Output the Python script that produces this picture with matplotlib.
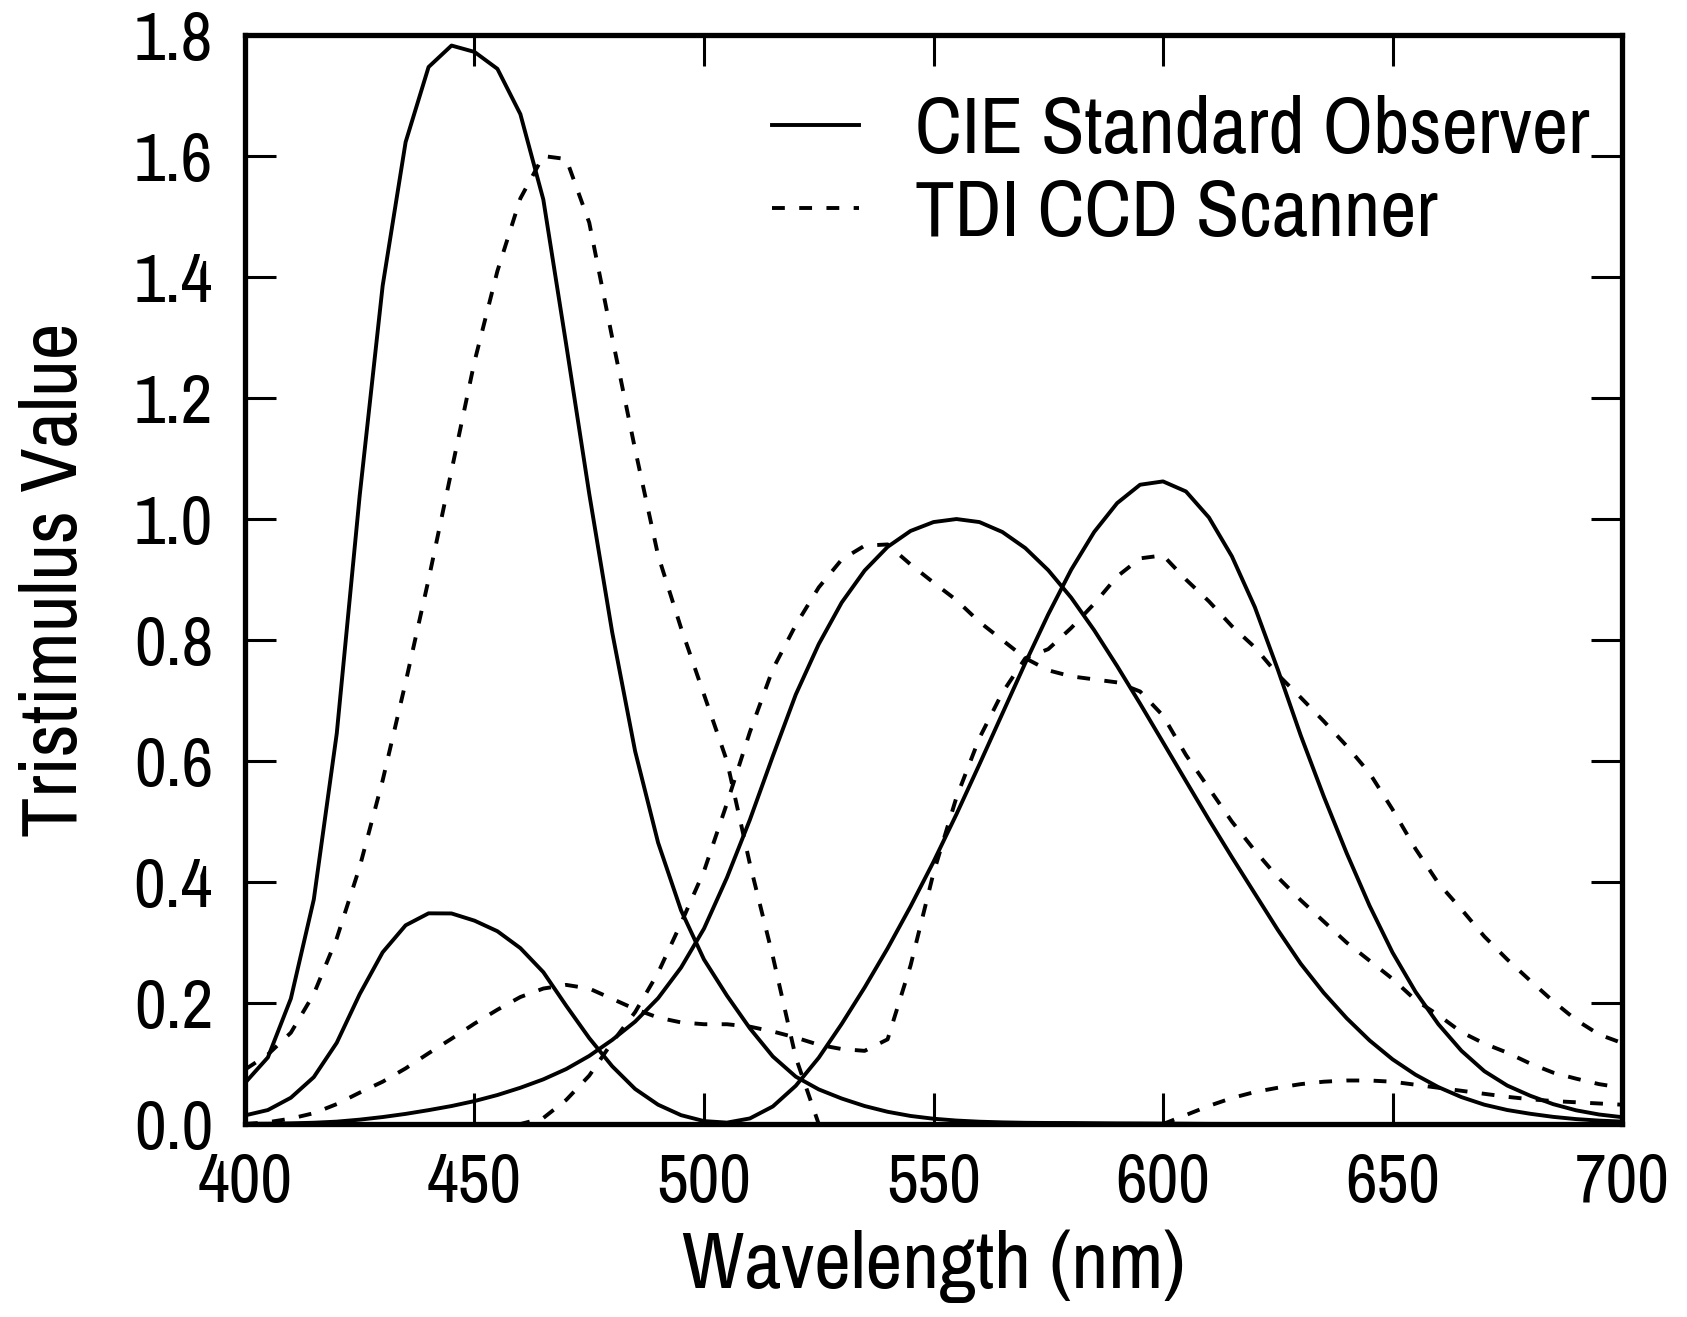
import matplotlib
matplotlib.use("Agg")
import matplotlib.pyplot as plt
import numpy as np

plt.rcParams['font.family'] = ['Archivo Narrow', 'Roboto Condensed', 'DejaVu Sans']

# wavelength grid, 5 nm steps
wl = np.arange(400, 701, 5)

# CIE 1931 standard observer (x-bar, y-bar, z-bar)
cie_x = [0.0143, 0.0232, 0.0435, 0.0776, 0.1344, 0.2148, 0.2839, 0.3285, 0.3483, 0.3481,
         0.3362, 0.3187, 0.2908, 0.2511, 0.1954, 0.1421, 0.0956, 0.0580, 0.0320, 0.0147,
         0.0049, 0.0024, 0.0093, 0.0291, 0.0633, 0.1096, 0.1655, 0.2258, 0.2904, 0.3597,
         0.4335, 0.5121, 0.5945, 0.6784, 0.7621, 0.8425, 0.9163, 0.9786, 1.0263, 1.0567,
         1.0622, 1.0456, 1.0026, 0.9384, 0.8545, 0.7514, 0.6424, 0.5419, 0.4479, 0.3608,
         0.2835, 0.2187, 0.1649, 0.1212, 0.0874, 0.0636, 0.0468, 0.0329, 0.0227, 0.0158,
         0.0114]
cie_y = [0.0004, 0.0006, 0.0012, 0.0022, 0.0040, 0.0073, 0.0116, 0.0168, 0.0230, 0.0298,
         0.0380, 0.0480, 0.0600, 0.0739, 0.0910, 0.1126, 0.1390, 0.1693, 0.2080, 0.2586,
         0.3230, 0.4073, 0.5030, 0.6082, 0.7100, 0.7932, 0.8620, 0.9149, 0.9540, 0.9803,
         0.9950, 1.0000, 0.9950, 0.9786, 0.9520, 0.9154, 0.8700, 0.8163, 0.7570, 0.6949,
         0.6310, 0.5668, 0.5030, 0.4412, 0.3810, 0.3210, 0.2650, 0.2170, 0.1750, 0.1382,
         0.1070, 0.0816, 0.0610, 0.0446, 0.0320, 0.0232, 0.0170, 0.0119, 0.0082, 0.0057,
         0.0041]
cie_z = [0.0679, 0.1102, 0.2074, 0.3713, 0.6456, 1.0391, 1.3856, 1.6230, 1.7471, 1.7826,
         1.7721, 1.7441, 1.6692, 1.5281, 1.2876, 1.0419, 0.8130, 0.6162, 0.4652, 0.3533,
         0.2720, 0.2123, 0.1582, 0.1117, 0.0783, 0.0573, 0.0422, 0.0298, 0.0203, 0.0134,
         0.0088, 0.0058, 0.0039, 0.0028, 0.0021, 0.0018, 0.0017, 0.0014, 0.0011, 0.0010,
         0.0008, 0.0006, 0.0003, 0.0002, 0.0002, 0.0001, 0.0001, 0.0, 0.0, 0.0,
         0.0, 0.0, 0.0, 0.0, 0.0, 0.0, 0.0, 0.0, 0.0, 0.0,
         0.0]

# TDI CCD scanner channels
ccd_r = [0.0, 0.003, 0.009, 0.018, 0.033, 0.052, 0.070, 0.092, 0.117, 0.141,
         0.166, 0.189, 0.210, 0.224, 0.230, 0.224, 0.207, 0.190, 0.176, 0.168,
         0.165, 0.165, 0.161, 0.153, 0.143, 0.131, 0.124, 0.121, 0.140, 0.262,
         0.415, 0.540, 0.638, 0.713, 0.770, 0.785, 0.820, 0.860, 0.905, 0.935,
         0.940, 0.900, 0.864, 0.823, 0.788, 0.743, 0.705, 0.666, 0.625, 0.580,
         0.520, 0.455, 0.398, 0.355, 0.310, 0.272, 0.237, 0.203, 0.172, 0.148,
         0.134]
ccd_g = [0.0, 0.0, 0.0, 0.0, 0.0, 0.0, 0.0, 0.0, 0.0, 0.0,
         0.0, 0.0, 0.0, 0.010, 0.040, 0.080, 0.135, 0.185, 0.250, 0.332,
         0.418, 0.530, 0.648, 0.752, 0.825, 0.887, 0.933, 0.956, 0.958, 0.925,
         0.895, 0.866, 0.830, 0.800, 0.770, 0.750, 0.740, 0.735, 0.730, 0.715,
         0.675, 0.610, 0.555, 0.500, 0.452, 0.408, 0.370, 0.335, 0.300, 0.270,
         0.240, 0.205, 0.180, 0.152, 0.133, 0.118, 0.100, 0.085, 0.075, 0.066,
         0.060]
ccd_b = [0.090, 0.115, 0.151, 0.215, 0.307, 0.425, 0.568, 0.730, 0.900, 1.080,
         1.260, 1.410, 1.530, 1.600, 1.595, 1.490, 1.300, 1.115, 0.940, 0.820,
         0.710, 0.600, 0.430, 0.277, 0.110, 0.0, 0.0, 0.0, 0.0, 0.0,
         0.0, 0.0, 0.0, 0.0, 0.0, 0.0, 0.0, 0.0, 0.0, 0.0,
         0.0, 0.015, 0.030, 0.043, 0.053, 0.060, 0.066, 0.070, 0.072, 0.072,
         0.070, 0.065, 0.060, 0.055, 0.050, 0.045, 0.041, 0.038, 0.036, 0.034,
         0.032]

x_ticks = [400, 450, 500, 550, 600, 650, 700]
y_ticks = [0.0, 0.2, 0.4, 0.6, 0.8, 1.0, 1.2, 1.4, 1.6, 1.8]

fig = plt.figure(figsize=(16.87, 13.17), dpi=100)
ax = fig.add_axes([0.1452, 0.1465, 0.8163, 0.8269])

lw = 2.8
dash = (3.3, 3.7)
ax.plot(wl, cie_z, color='k', lw=lw, label='CIE Standard Observer')
ax.plot(wl, cie_y, color='k', lw=lw)
ax.plot(wl, cie_x, color='k', lw=lw)
ax.plot(wl, ccd_b, color='k', lw=lw, ls=(0, dash), label='TDI CCD Scanner')
ax.plot(wl, ccd_g, color='k', lw=lw, ls=(0, dash))
ax.plot(wl, ccd_r, color='k', lw=lw, ls=(0, dash))

ax.set_xlim(400, 700)
ax.set_ylim(0, 1.8)
ax.set_xticks(x_ticks)
ax.set_yticks(y_ticks)
ax.set_yticklabels(['%.1f' % v for v in y_ticks])

for s in ax.spines.values():
    s.set_linewidth(3.8)

ax.tick_params(direction='in', length=22, width=2.2, top=True, right=True,
               labelsize=50, color='k')
ax.tick_params(axis='y', pad=23)
ax.tick_params(axis='x', pad=20)

ax.set_xlabel('Wavelength (nm)', fontsize=58)
ax.set_ylabel('Tristimulus Value', fontsize=58)
ax.xaxis.set_label_coords(0.5, -0.097)
ax.yaxis.set_label_coords(-0.112, 0.5)

leg = ax.legend(loc='upper left', bbox_to_anchor=(0.383, 0.945), frameon=False,
                fontsize=57, handlelength=1.1, handletextpad=0.7,
                labelspacing=0.14, borderpad=0, borderaxespad=0)

fig.savefig('out.png', dpi=100)
